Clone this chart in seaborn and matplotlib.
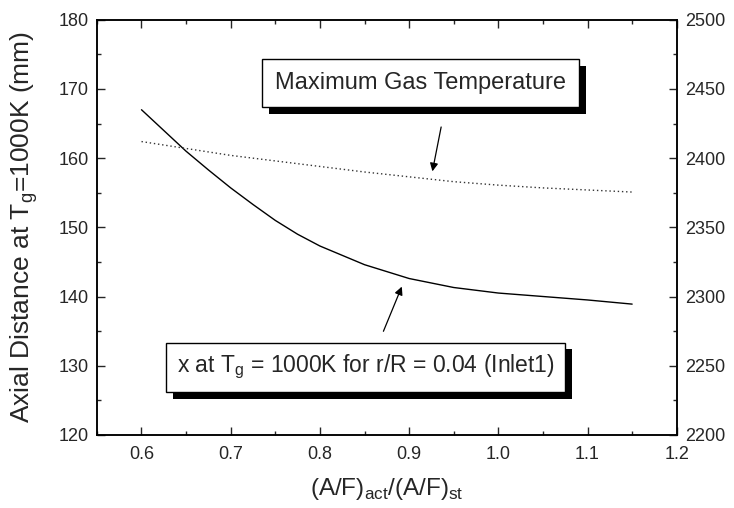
import numpy as np
import pandas as pd
import matplotlib
matplotlib.use('Agg')
import matplotlib.pyplot as plt
import matplotlib.patheffects as pe
from matplotlib.ticker import MultipleLocator, FormatStrFormatter
import seaborn as sns

# Data
af_ratio = [0.600, 0.625, 0.650, 0.675, 0.700, 0.725, 0.750, 0.775, 0.800,
            0.850, 0.900, 0.950, 1.000, 1.050, 1.100, 1.150]
axial_dist = [167.0, 164.0, 161.0, 158.3, 155.7, 153.3, 151.0, 149.0, 147.3,
              144.6, 142.6, 141.3, 140.5, 140.0, 139.5, 138.9]
max_gas_temp = [2412.0, 2409.5, 2407.0, 2404.5, 2402.0, 2400.0, 2398.0, 2396.0, 2394.0,
                2390.0, 2386.5, 2383.0, 2380.5, 2378.5, 2377.0, 2375.5]

df = pd.DataFrame({'af': af_ratio, 'x': axial_dist, 'T': max_gas_temp})

sns.set_style('ticks')
plt.rcParams['font.family'] = ['Liberation Sans', 'DejaVu Sans']
plt.rcParams['mathtext.fontset'] = 'custom'
plt.rcParams['mathtext.rm'] = 'Liberation Sans'
plt.rcParams['axes.linewidth'] = 1.1

fig = plt.figure(figsize=(7.34, 5.08), dpi=100)
ax = fig.add_axes([0.132, 0.144, 0.790, 0.817])
ax2 = ax.twinx()

sns.lineplot(data=df, x='af', y='x', ax=ax, color='black', linewidth=1.0)
sns.lineplot(data=df, x='af', y='T', ax=ax2, color='#333333', linewidth=1.0, linestyle=(0, (1, 2)))

ax.set_xlim(0.55, 1.2)
ax.set_ylim(120, 180)
ax2.set_ylim(2200, 2500)

ax.xaxis.set_major_locator(MultipleLocator(0.1))
ax.xaxis.set_minor_locator(MultipleLocator(0.05))
ax.yaxis.set_major_locator(MultipleLocator(10))
ax.yaxis.set_minor_locator(MultipleLocator(5))
ax2.yaxis.set_major_locator(MultipleLocator(50))
ax2.yaxis.set_minor_locator(MultipleLocator(25))
ax.xaxis.set_major_formatter(FormatStrFormatter('%.1f'))

ax.tick_params(axis='x', which='both', direction='in', top=True, labelsize=13, pad=8)
ax.tick_params(axis='y', which='both', direction='in', right=False, labelsize=13, pad=6)
ax2.tick_params(axis='y', which='both', direction='in', labelsize=13, pad=6)
for a in (ax, ax2):
    a.tick_params(which='major', length=6, width=1.0)
    a.tick_params(which='minor', length=3, width=1.0)
    for s in a.spines.values():
        s.set_color('black')

ax.set_xlabel(r'(A/F)$_\mathregular{act}$/(A/F)$_\mathregular{st}$', fontsize=17.5)
ax.set_ylabel(r'Axial Distance at T$_\mathregular{g}$=1000K (mm)', fontsize=19)
ax.xaxis.set_label_coords(0.5, -0.099)
ax.yaxis.set_label_coords(-0.098, 0.5)
ax2.set_ylabel('')

shadow = [pe.withSimplePatchShadow(offset=(5, -5), shadow_rgbFace='black', alpha=1.0)]

# Maximum gas temperature box + arrow
ax2.annotate('', xy=(0.9255, 2388.5), xytext=(0.9365, 2424.5),
             arrowprops=dict(arrowstyle='-|>', color='black', lw=0.9, mutation_scale=12))
t1 = ax2.text(0.913, 2454, 'Maximum Gas Temperature', fontsize=17, ha='center', va='center',
              bbox=dict(boxstyle='square,pad=0.55', fc='white', ec='black', lw=1.0), zorder=5)
t1.get_bbox_patch().set_path_effects(shadow)

# Axial distance box + arrow
ax.annotate('', xy=(0.893, 141.8), xytext=(0.870, 134.6),
            arrowprops=dict(arrowstyle='-|>', color='black', lw=0.9, mutation_scale=12))
t2 = ax.text(0.851, 129.8, r'x at T$_\mathregular{g}$ = 1000K for r/R = 0.04 (Inlet1)',
             fontsize=16.5, ha='center', va='center',
             bbox=dict(boxstyle='square,pad=0.45', fc='white', ec='black', lw=1.0), zorder=5)
t2.get_bbox_patch().set_path_effects(shadow)

fig.savefig('out.png', dpi=100)
